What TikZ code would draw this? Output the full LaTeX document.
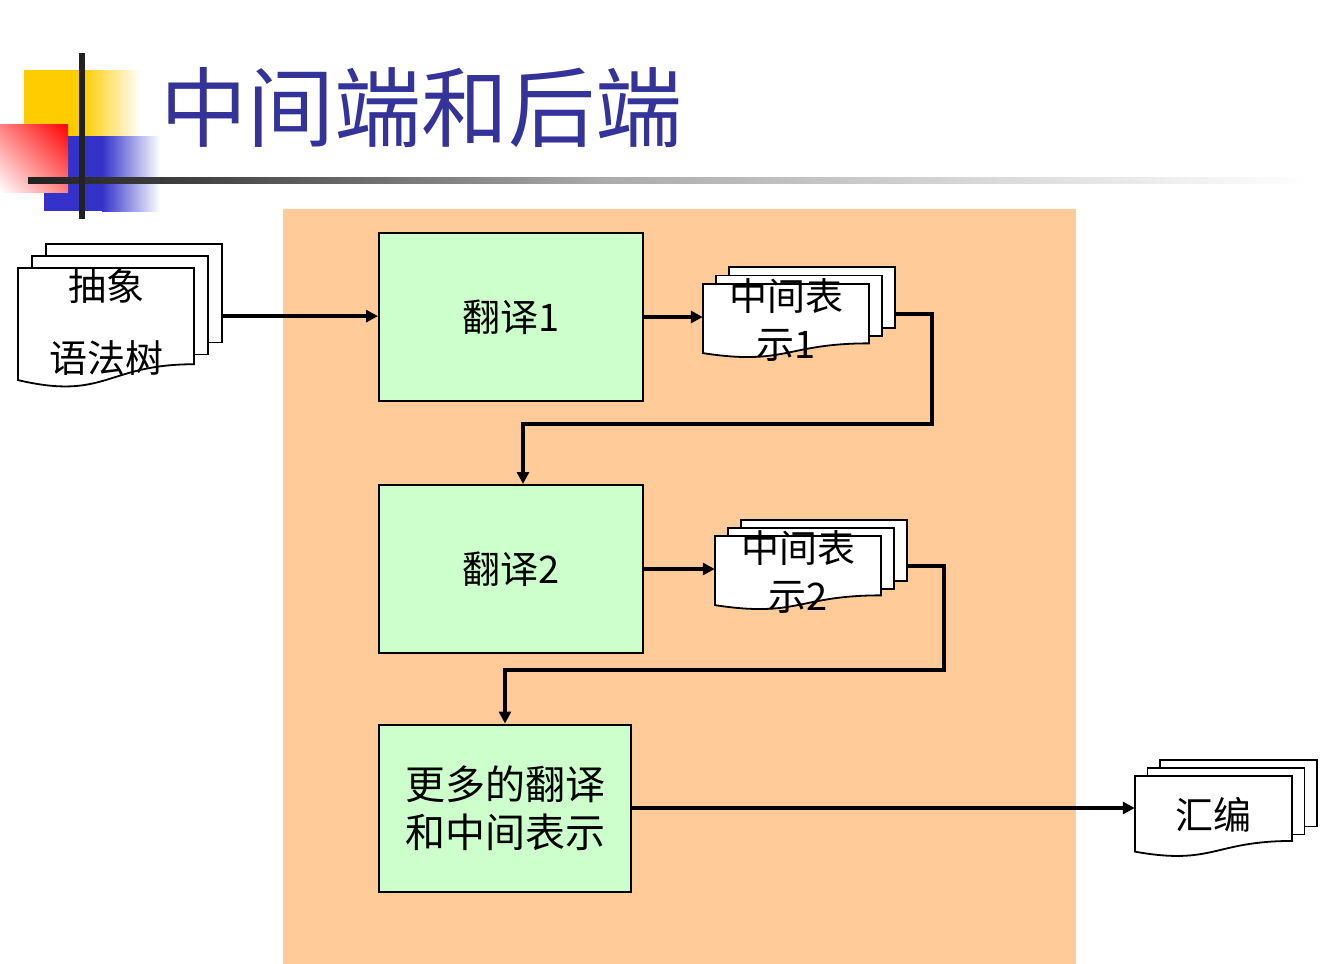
\documentclass[tikz,border=0pt]{standalone}
\usepackage{fontspec}
\newfontfamily\cjk{Noto Sans CJK SC}
\usetikzlibrary{arrows.meta,shadings}

\definecolor{titleblue}{HTML}{333399}
\definecolor{peach}{HTML}{FFCC99}
\definecolor{mint}{HTML}{CCFFCC}
\definecolor{gold}{HTML}{FFCC00}
\definecolor{barblue}{HTML}{3333CC}
\definecolor{bardark}{HTML}{222222}
\definecolor{bargray}{HTML}{AAAAAA}

\tikzset{
  page/.style={draw=black, fill=white, line width=1.8pt},
  stage/.style={draw=black, fill=mint, line width=2pt, inner sep=0pt,
    minimum width=264pt, minimum height=168pt, align=center,
    font=\cjk\fontsize{38}{48}\selectfont},
  doclabel/.style={inner sep=0pt, align=center, yshift=-6pt,
    font=\cjk\fontsize{38}{48}\selectfont},
  flow/.style={line width=4pt, -{Triangle[length=12pt,width=12pt]}},
}

% stack of three pages, front one with a wavy bottom
% #1 name, (#2,#3) top left of front page, #4 width, #5 height,
% (#6,#7) step to each page behind, #8 text
\newcommand{\docstack}[8]{%
  \foreach \k in {2,1}{
    \draw[page] ({#2+\k*#6},{#3-\k*#7}) rectangle ++(#4,{0.82*#5});
  }
  \draw[page] (#2,#3) -- ++(#4,0) -- ++(0,{0.802*#5})
    .. controls ({#2+0.5*#4},{#3+0.802*#5}) and ({#2+0.5*#4},{#3+1.107*#5})
    .. ({#2},{#3+0.934*#5}) -- cycle;
  \node[doclabel, minimum width=#4, minimum height={0.802*#5}]
    (#1) at ({#2+0.5*#4},{#3+0.401*#5}) {#8};
  \coordinate (#1-out) at ({#2+#4+2*#6},{#3+0.401*#5});
}

\begin{document}
\begin{tikzpicture}[x=1pt, y=-1pt]
  \useasboundingbox (0,0) rectangle (1342,964);

  % title decoration
  \fill[gold] (24,70) rectangle (83,136);
  \shade[left color=gold, right color=white] (83,70) rectangle (140,136);
  \fill[barblue] (44,136) rectangle (102,211);
  \shade[left color=barblue, right color=white] (102,136) rectangle (160,211);
  \shade[upper right=red, lower left=white, upper left=red!50!white,
    lower right=red!50!white] (0,124) rectangle (68,192);
  \shade[left color=bardark, right color=bardark!85!white] (28,177) rectangle (200,183);
  \shade[left color=bardark!85!white, right color=bargray] (200,177) rectangle (600,183);
  \shade[left color=bargray, right color=white] (600,177) rectangle (1310,183);
  \fill[bardark] (79,53) rectangle (85,219);
  \node[anchor=west, inner sep=0pt, text=titleblue,
    font=\cjk\fontsize{87}{96}\selectfont] (title) at (160,108) {中间端和后端};

  % back end area
  \fill[peach] (283,209) rectangle (1076,964);

  \node[stage] (tr1) at (511,317) {翻译1};
  \node[stage] (tr2) at (511,569) {翻译2};
  \node[stage, minimum width=252pt, minimum height=167pt,
    font=\cjk\fontsize{40}{48}\selectfont] (more) at (505,808)
    {更多的翻译\\和中间表示};

  \docstack{ast}{18}{268}{176}{120}{14}{12}{抽象\\[24pt]语法树}
  \docstack{ir1}{703}{284}{166}{74}{13}{8.5}{中间表\\示1}
  \docstack{ir2}{715}{536}{166}{74}{13}{8}{中间表\\示2}
  \docstack{asm}{1135}{776}{157}{81}{12.5}{8}{汇编}

  \coordinate (bend1) at (932,424);
  \coordinate (bend2) at (944,670);

  \draw[flow] (ast-out) -- (ast-out -| tr1.west);
  \draw[flow] (tr1.east) -- (tr1.east -| ir1.west);
  \draw[flow] (ir1-out) -| (bend1) -| ([xshift=12pt]tr2.north);
  \draw[flow] (tr2.east) -- (tr2.east -| ir2.west);
  \draw[flow] (ir2-out) -| (bend2) -| (more.north);
  \draw[flow] (more.east) -- (more.east -| asm.west);
\end{tikzpicture}
\end{document}
